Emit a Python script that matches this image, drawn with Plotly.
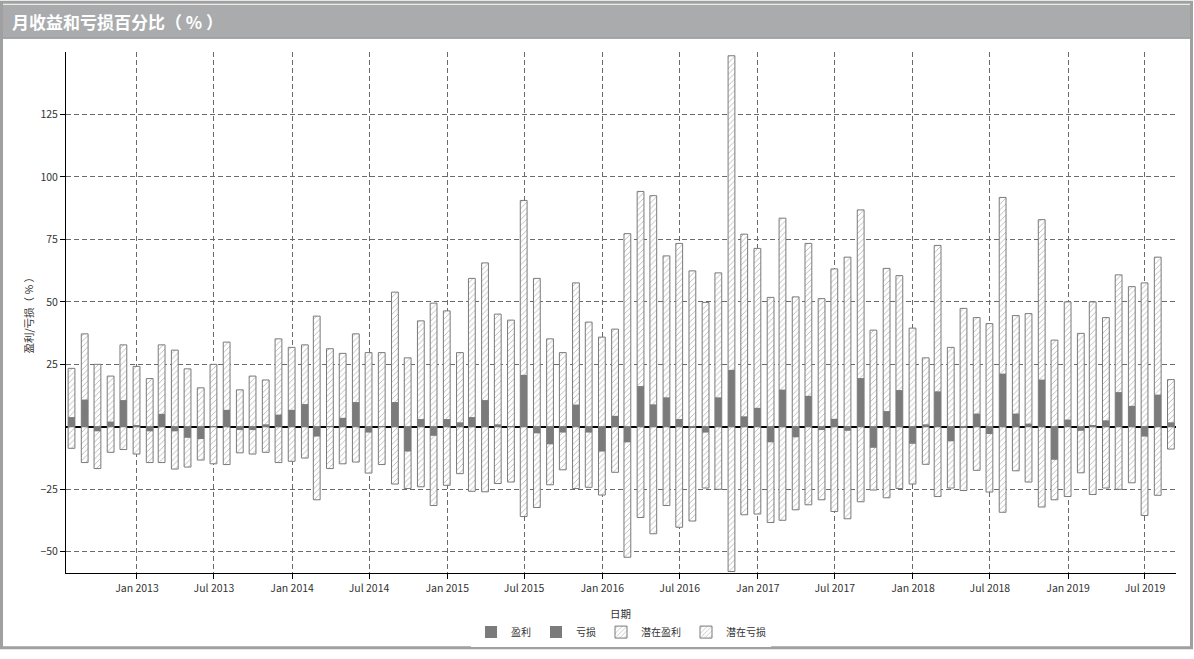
import pandas as pd
import plotly.graph_objects as go

# month-end dates, Jul 2012 .. Aug 2019
months = (pd.date_range("2012-08-01", periods=86, freq="MS") - pd.Timedelta(days=1)).strftime("%Y-%m-%d").tolist()

monthly_return = [
    3.9, 10.9, -1.8, 2.1, 10.7, 0.6, -1.8, 5.2, -1.8, -4.4, -4.9, 0.3,
    6.8, -1.3, -1.3, 1.0, 4.9, 6.8, 9.1, -3.9, 0.2, 3.6, 9.9, -2.3,
    0.3, 9.9, -9.9, 3.1, -3.6, 3.1, 1.8, 3.9, 10.7, 1.0, 0.2, 20.8,
    -2.6, -7.0, -2.3, 8.9, -2.3, -9.9, 4.4, -6.2, 16.3, 9.0, 11.8, 3.1,
    -0.3, -2.3, 11.8, 22.8, 4.2, 7.6, -6.2, 14.9, -4.2, 12.4, -1.3, 3.2,
    -1.6, 19.5, -8.4, 6.3, 14.7, -6.8, 1.0, 14.2, -5.8, -0.3, 5.3, -2.9,
    21.3, 5.3, 1.3, 18.9, -13.2, 2.9, -1.6, 0.4, 2.6, 13.9, 8.4, -3.9,
    12.9, 1.8,
]

potential_profit = [
    23.4, 37.2, 25.0, 20.3, 32.8, 24.2, 19.3, 32.8, 30.7, 23.2, 15.6, 25.0,
    33.9, 14.8, 20.3, 18.75, 35.2, 31.8, 32.8, 44.3, 31.25, 29.4, 37.2, 29.7,
    29.7, 53.9, 27.6, 42.4, 49.5, 46.4, 29.7, 59.4, 65.6, 45.1, 42.7, 90.6,
    59.4, 35.2, 29.7, 57.6, 41.9, 35.9, 39.1, 77.3, 94.2, 92.5, 68.4, 73.4,
    62.4, 49.8, 61.6, 148.5, 77.1, 71.4, 51.8, 83.5, 52.0, 73.4, 51.3, 63.2,
    67.9, 86.8, 38.7, 63.4, 60.5, 39.5, 27.6, 72.6, 31.8, 47.4, 43.7, 41.3,
    91.8, 44.5, 45.3, 82.9, 34.7, 50.0, 37.4, 50.0, 43.7, 60.8, 56.1, 57.6,
    67.9, 18.9,
]

potential_loss = [
    -8.6, -14.3, -16.7, -10.2, -9.1, -10.9, -14.3, -14.3, -16.9, -16.1, -13.3, -14.8,
    -15.1, -10.4, -10.9, -10.2, -14.3, -13.8, -12.5, -29.2, -16.7, -14.8, -14.1, -18.5,
    -15.1, -22.9, -24.7, -24.0, -31.5, -23.4, -18.75, -25.8, -26.0, -22.7, -22.1, -35.9,
    -32.3, -23.2, -17.2, -24.7, -24.2, -27.3, -18.2, -52.2, -36.3, -42.8, -31.5, -40.2,
    -37.7, -24.5, -25.0, -57.9, -35.2, -34.9, -38.3, -37.4, -33.2, -31.2, -29.2, -33.9,
    -36.8, -30.0, -25.3, -28.4, -24.7, -22.9, -15.0, -27.9, -24.5, -25.5, -17.4, -26.1,
    -34.2, -17.6, -22.1, -32.1, -29.2, -27.9, -18.4, -27.1, -24.5, -25.0, -22.4, -35.5,
    -27.4, -8.9,
]

y_ticks = [-50, -25, 25, 50, 75, 100, 125]

profit = [v if v > 0 else None for v in monthly_return]
loss = [v if v < 0 else None for v in monthly_return]

BAR_W = 16 * 86400000
CJK = "Noto Sans CJK SC, DejaVu Sans, sans-serif"
HATCH = dict(shape="/", fgcolor="#6e6e6e", bgcolor="white", size=4, solidity=0.22)

fig = go.Figure()
fig.add_trace(go.Bar(x=months, y=potential_profit, name="潜在盈利", width=BAR_W, legendrank=3,
                     marker=dict(color="white", line=dict(color="#7a7a7a", width=1), pattern=HATCH)))
fig.add_trace(go.Bar(x=months, y=potential_loss, name="潜在亏损", width=BAR_W, legendrank=4,
                     marker=dict(color="white", line=dict(color="#7a7a7a", width=1), pattern=HATCH)))
fig.add_trace(go.Bar(x=months, y=profit, name="盈利", width=BAR_W, legendrank=1,
                     marker=dict(color="#7b7b7b", line=dict(width=0))))
fig.add_trace(go.Bar(x=months, y=loss, name="亏损", width=BAR_W, legendrank=2,
                     marker=dict(color="#7b7b7b", line=dict(width=0))))

L, R, T, B = 66, 1176, 52, 581
W, H = 1194, 659
def px(x):
    return (x - L) / (R - L)
def py(y):
    return (B - y) / (B - T)

fig.update_layout(
    width=W, height=H,
    margin=dict(l=L, r=W - R, t=T, b=H - B),
    barmode="overlay",
    paper_bgcolor="white", plot_bgcolor="white",
    font=dict(family=CJK, size=10, color="#333333"),
    showlegend=True,
    legend=dict(orientation="h", x=0.5, xanchor="center", y=py(641), yanchor="middle",
                font=dict(size=10, color="#333333"), itemwidth=30, traceorder="normal"),
    xaxis=dict(
        type="date", range=["2012-07-18", "2019-09-12"],
        tickmode="linear", tick0="2013-01-01", dtick="M6", tickformat="%b %Y",
        ticks="outside", ticklen=5, tickcolor="black",
        showgrid=True, gridcolor="#6a6a6a", griddash="5px,3px", gridwidth=1,
        showline=True, linecolor="black", linewidth=1,
        tickfont=dict(size=10.5, color="#333333"),
    ),
    yaxis=dict(
        range=[-58.5, 150], tickmode="array", tickvals=y_ticks,
        ticks="outside", ticklen=5, tickcolor="black",
        showgrid=True, gridcolor="#6a6a6a", griddash="5px,3px", gridwidth=1,
        zeroline=True, zerolinecolor="black", zerolinewidth=1.5,
        showline=True, linecolor="black", linewidth=1,
        tickfont=dict(size=10.5, color="#333333"),
    ),
    shapes=[
        dict(type="rect", xref="paper", yref="paper", x0=px(3), x1=px(1190), y0=py(38), y1=py(4),
             fillcolor="#a9abad", line=dict(width=0), layer="above"),
        dict(type="line", xref="paper", yref="paper", x0=px(3), x1=px(1190), y0=py(38), y1=py(38),
             line=dict(color="#8c8e90", width=1)),
        dict(type="rect", xref="paper", yref="paper", x0=px(1.5), x1=px(1191.5), y0=py(657), y1=py(1.5),
             line=dict(color="#a0a0a0", width=3), fillcolor="rgba(0,0,0,0)"),
    ],
    annotations=[
        dict(text="<b>月收益和亏损百分比（ % ）</b>", xref="paper", yref="paper", x=px(10), y=py(21),
             xanchor="left", yanchor="middle", showarrow=False,
             font=dict(family=CJK, size=17, color="white")),
        dict(text="日期", xref="paper", yref="paper", x=px(620), y=py(622),
             xanchor="center", yanchor="middle", showarrow=False,
             font=dict(family=CJK, size=10.5, color="#333333")),
        dict(text="盈利/亏损（ % ）", xref="paper", yref="paper", x=px(28), y=0.5, textangle=-90,
             xanchor="center", yanchor="middle", showarrow=False,
             font=dict(family=CJK, size=10.5, color="#333333")),
    ],
)

fig.write_html("out.html")
